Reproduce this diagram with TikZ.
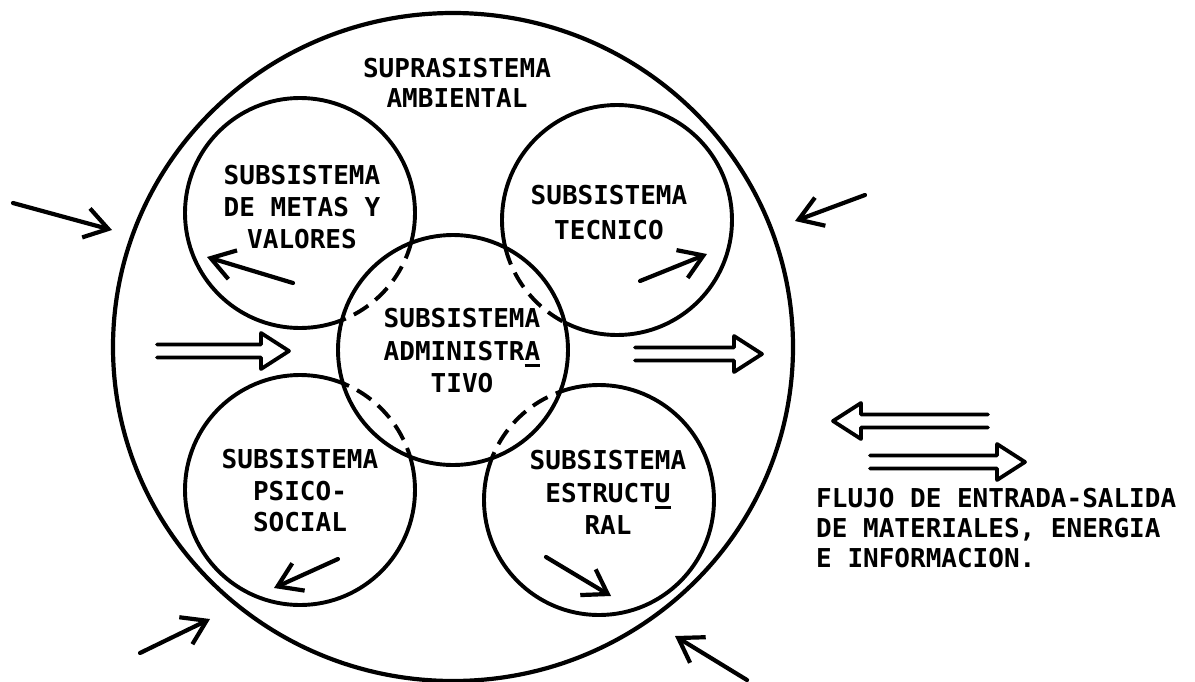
\documentclass[tikz,border=0pt]{standalone}
\usepackage{fontspec}
\newfontfamily\tw{DejaVu Sans Mono}
\usetikzlibrary{arrows.meta}
\newcommand\lf[1]{\tw\bfseries\fontsize{26}{#1}\selectfont}
\newcommand\undl[1]{\makebox[0pt][l]{\rule[-6.5pt]{15.6pt}{2.8pt}}#1}
\newcommand\hollow[4]{% tail x, tip x, y, direction (+1 right, -1 left)
  \draw[hol] (#1,#3-6.5) -- (#2-28*#4,#3-6.5) -- (#2-28*#4,#3-18) -- (#2,#3)
    -- (#2-28*#4,#3+18) -- (#2-28*#4,#3+6.5) -- (#1,#3+6.5);}
\begin{document}
\begin{tikzpicture}[x=1pt,y=-1pt,
  rim/.style={line width=4.2pt},
  sub/.style={line width=3.9pt},
  dsh/.style={line width=3.9pt, dash pattern=on 17pt off 9pt},
  lbl/.style={align=center, inner sep=0pt, anchor=north},
  arr/.style={line width=4.2pt, line cap=round, -{Straight Barb[length=23pt,width=30pt]}},
  hol/.style={line width=3.8pt, line join=round, line cap=round}]
\useasboundingbox (0,0) rectangle (1195,681);

% circle centres
\coordinate (supra) at (453,347);
\coordinate (cM) at (300,213);
\coordinate (cT) at (617,220);
\coordinate (cA) at (453,350);
\coordinate (cP) at (300,490);
\coordinate (cE) at (599,500);

\draw[rim] (supra) ellipse [x radius=340pt, y radius=334pt];
\foreach \c in {cM,cT,cP,cE} \draw[sub] (\c) circle[radius=115pt];
\fill[white] (cA) circle[radius=115pt];
\begin{scope}
  \clip (cA) circle[radius=115pt];
  \foreach \c in {cM,cT,cP,cE} \draw[dsh] (\c) circle[radius=115pt];
\end{scope}
\draw[sub] (cA) circle[radius=115pt];

% texts
\node[lbl, font={\lf{30}}] (tsupra) at (457,58) {SUPRASISTEMA\\AMBIENTAL};
\node[lbl, font={\lf{32}}] (tmetas) at (302,165) {SUBSISTEMA\\DE METAS Y\\VALORES};
\node[lbl, font={\lf{35}}] (ttec) at (609,185) {SUBSISTEMA\\TECNICO};
\node[lbl, font={\lf{32.5}}] (tadm) at (462,308) {SUBSISTEMA\\ADMINISTR\undl{A}\\TIVO};
\node[lbl, font={\lf{31.5}}] (tpsi) at (300,449) {SUBSISTEMA\\PSICO-\\SOCIAL};
\node[lbl, font={\lf{32.5}}] (test) at (608,450) {SUBSISTEMA\\ESTRUCT\undl{U}\\RAL};
\node[lbl, font={\lf{30}}, align=left, anchor=north west] (tflujo) at (816,488)
  {FLUJO DE ENTRADA-SALIDA\\DE MATERIALES, ENERGIA\\E INFORMACION.};

% single arrows
\coordinate (a1s) at (13,203);  \coordinate (a1e) at (112,230);
\coordinate (a2s) at (293,283); \coordinate (a2e) at (207,257);
\coordinate (a3s) at (640,281); \coordinate (a3e) at (707,254);
\coordinate (a4s) at (865,195); \coordinate (a4e) at (795,221);
\coordinate (a5s) at (338,559); \coordinate (a5e) at (274,588);
\coordinate (a6s) at (140,653); \coordinate (a6e) at (210,619);
\coordinate (a7s) at (546,557); \coordinate (a7e) at (611,596);
\coordinate (a8s) at (747,680); \coordinate (a8e) at (675,636);
\foreach \i in {1,...,8} \draw[arr] (a\i s) -- (a\i e);

% hollow double arrows
\hollow{157}{289}{351}{1}
\hollow{635}{762}{354}{1}
\hollow{988}{833}{421}{-1}
\hollow{870}{1025}{462}{1}
\end{tikzpicture}
\end{document}
